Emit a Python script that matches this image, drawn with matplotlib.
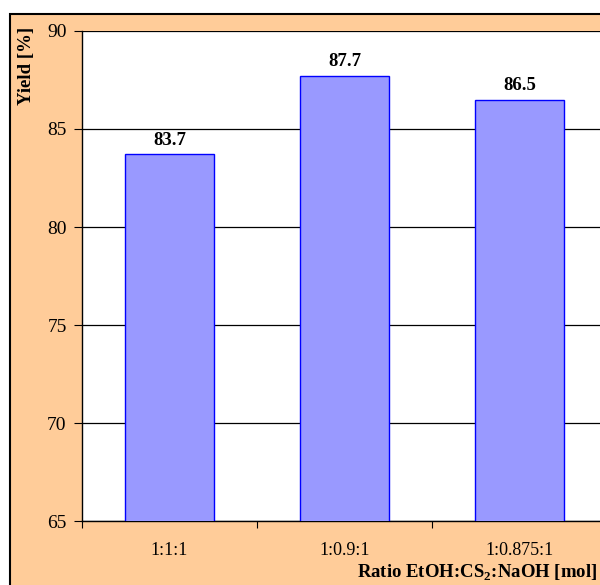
import matplotlib.pyplot as plt
from matplotlib.patches import Rectangle

plt.rcParams['font.family'] = ['Liberation Serif', 'DejaVu Serif']
plt.rcParams['mathtext.fontset'] = 'custom'
plt.rcParams['mathtext.rm'] = 'Liberation Serif'
plt.rcParams['mathtext.bf'] = 'Liberation Serif:bold'

ratios = ['1:1:1', '1:0.9:1', '1:0.875:1']
yields = [83.7, 87.7, 86.5]
yticks = [65, 70, 75, 80, 85, 90]

W, H = 600, 585
fig = plt.figure(figsize=(W / 100, H / 100), dpi=100)
fig.patch.set_facecolor('white')

# orange chart area with black frame (cut off at right and bottom)
fig.add_artist(Rectangle((10 / W, -0.05), 1.1, 1 - 14 / H + 0.05,
                         transform=fig.transFigure, facecolor='#FFCC99',
                         edgecolor='black', linewidth=1.5, zorder=0))

ax = fig.add_axes([82 / W, 1 - 521 / H, 525 / W, 490 / H])
ax.set_facecolor('white')
ax.set_zorder(1)

x = range(len(ratios))
ax.bar(x, yields, width=0.51, color='#9999FF', edgecolor='#0000FF',
       linewidth=1, zorder=3)
for xi, v in zip(x, yields):
    ax.text(xi, v + 0.3, f'{v}', ha='center', va='bottom',
            fontsize=13.5, fontweight='bold', zorder=4)

ax.set_ylim(65, 90)
ax.set_xlim(-0.5, len(ratios) - 0.5)
ax.set_yticks(yticks)
ax.set_yticklabels([str(t) for t in yticks], fontsize=14)
ax.yaxis.grid(True, color='black', linewidth=0.9, zorder=1)
ax.set_axisbelow(True)

ax.set_xticks([-0.5, 0.5, 1.5, 2.5])
ax.set_xticklabels([])
ax.set_xticks(list(x), minor=True)
ax.set_xticklabels(ratios, minor=True, fontsize=13)
ax.tick_params(axis='x', which='minor', length=0, pad=15)
ax.tick_params(axis='x', which='major', direction='out', length=5)
ax.tick_params(axis='y', direction='out', length=6, pad=5)

for s in ['top', 'right']:
    ax.spines[s].set_visible(False)
ax.spines['left'].set_linewidth(1)
ax.spines['bottom'].set_linewidth(1)

fig.text(597 / W, 1 - 578 / H, r'Ratio EtOH:CS$_\mathbf{2}$:NaOH [mol]',
         ha='right', va='baseline', fontsize=13.5, fontweight='bold')
fig.text(26 / W, 1 - 66 / H, 'Yield [%]', rotation=90, ha='center',
         va='center', fontsize=13.5, fontweight='bold')

fig.savefig('out.png', dpi=100)
